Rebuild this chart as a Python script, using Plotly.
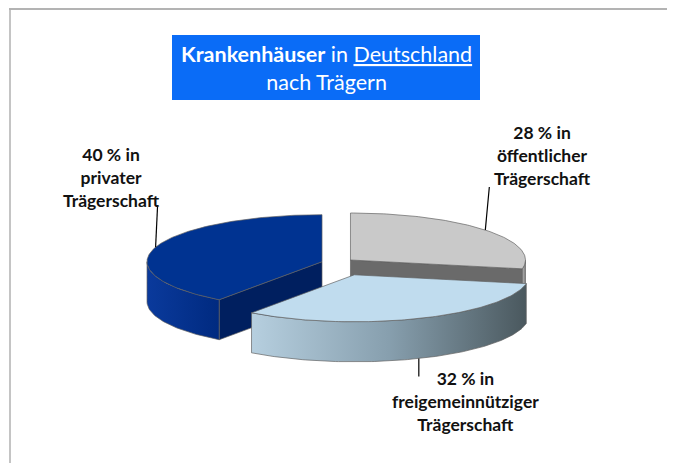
import numpy as np
import plotly.graph_objects as go

# ---- data ----
categories = ["öffentlicher Trägerschaft", "freigemeinnütziger Trägerschaft", "privater Trägerschaft"]
values = [28, 32, 40]
label_texts = [
    "<b>28 % in<br>öffentlicher<br>Trägerschaft</b>",
    "<b>32 % in<br>freigemeinnütziger<br>Trägerschaft</b>",
    "<b>40 % in<br>privater<br>Trägerschaft</b>",
]

# ---- style ----
W, H = 675, 463
PAD = 8  # default page body margin
cx0, cy0 = 337, 263
rx, ry, depth = 175, 47, 40
explode = [0.10, 0.27, 0.09]
top_colors = ["#c9c9c9", "#c0dcee", "#003391"]
wall_colors = [
    [[0, "#b4b4b4"], [1, "#7c7c7c"]],
    [[0, "#b6cfdf"], [0.5, "#879fae"], [1, "#4a585e"]],
    [[0, "#0a3a9c"], [1, "#002a80"]],
]
cut_colors = ["#6a6a6a", "#6f8794", "#001f5f"]
edge = dict(color="rgba(95,95,95,0.85)", width=0.8)
leader = [(-43, 4), (18, 0), (-42, 2)]
label_pos = [(542, 155), (465, 401), (111, 177)]

fig = go.Figure()

def pt(cx, cy, t, dy=0.0):
    r = np.radians(t)
    return cx + rx * np.cos(r), cy - ry * np.sin(r) + dy

def arc(cx, cy, a0, a1, dy=0.0, n=None):
    n = n or max(int(abs(a1 - a0)) + 2, 3)
    ts = np.linspace(a0, a1, n)
    xs, ys = pt(cx, cy, ts, dy)
    return list(xs), list(ys)

def poly(xs, ys, color=None, gradient=None):
    kw = dict(x=xs + [xs[0]], y=ys + [ys[0]], mode="lines", fill="toself",
              line=edge, hoverinfo="skip", showlegend=False)
    if gradient is not None:
        kw["fillgradient"] = dict(type="horizontal", colorscale=gradient)
    else:
        kw["fillcolor"] = color
    fig.add_trace(go.Scatter(**kw))

slices = []
cum = 0.0
for i, v in enumerate(values):
    t_start = 90 - 360 * cum / 100
    t_end = t_start - 360 * v / 100
    mid = (t_start + t_end) / 2
    cum += v
    ox = explode[i] * rx * np.cos(np.radians(mid))
    oy = -explode[i] * ry * np.sin(np.radians(mid))
    slices.append(dict(i=i, ts=t_start, te=t_end, mid=mid, cx=cx0 + ox, cy=cy0 + oy))

order = sorted(slices, key=lambda s: -np.sin(np.radians(s["mid"])))
for s in order:
    i, cx, cy, ts, te = s["i"], s["cx"], s["cy"], s["ts"], s["te"]
    for t, vis in ((ts, np.cos(np.radians(ts)) < -1e-6), (te, np.cos(np.radians(te)) > 1e-6)):
        if vis:
            ex, ey = pt(cx, cy, t)
            poly([cx, ex, ex, cx], [cy, ey, ey + depth, cy + depth], color=cut_colors[i])
    for k in (-1, 0, 1):
        lo = max(te, -180 + 360 * k)
        hi = min(ts, 360 * k)
        if lo < hi:
            tx, ty = arc(cx, cy, lo, hi)
            bx, by = arc(cx, cy, hi, lo, dy=depth)
            poly(tx + bx, ty + by, gradient=wall_colors[i])
    ax, ay = arc(cx, cy, ts, te)
    poly([cx] + ax, [cy] + ay, color=top_colors[i])

for s in slices:
    i = s["i"]
    x0, y0 = pt(s["cx"], s["cy"], s["mid"], depth if np.sin(np.radians(s["mid"])) < 0 else 0)
    dy, dx = leader[i]
    fig.add_shape(type="line", x0=x0, y0=y0, x1=x0 + dx, y1=y0 + dy,
                  line=dict(color="black", width=1.2))
    fig.add_annotation(x=label_pos[i][0], y=label_pos[i][1], text=label_texts[i],
                       showarrow=False, xanchor="center", yanchor="middle",
                       font=dict(family="Lato", size=17.5, color="#111111"))

# title box
fig.add_shape(type="rect", x0=172, y0=35, x1=480, y1=100, fillcolor="#0a6cf7",
              line=dict(width=0), layer="below")
fig.add_annotation(x=326, y=68, showarrow=False, xanchor="center", yanchor="middle",
                   text="<b>Krankenhäuser</b> in <span style='text-decoration:underline'>Deutschland</span><br>nach Trägern",
                   font=dict(family="Lato", size=21.5, color="white"))

# frame
fig.add_shape(type="line", x0=9, x1=W, y0=9, y1=9, line=dict(color="#9a9a9a", width=1.5))
fig.add_shape(type="line", x0=10, x1=10, y0=9, y1=H, line=dict(color="#b0b0b0", width=1.5))

fig.update_layout(
    width=W - PAD, height=H - PAD, margin=dict(l=0, r=0, t=0, b=0),
    paper_bgcolor="white", plot_bgcolor="white",
    xaxis=dict(range=[PAD, W], visible=False, fixedrange=True),
    yaxis=dict(range=[H, PAD], visible=False, fixedrange=True),
    showlegend=False,
)

fig.write_html("out.html")
